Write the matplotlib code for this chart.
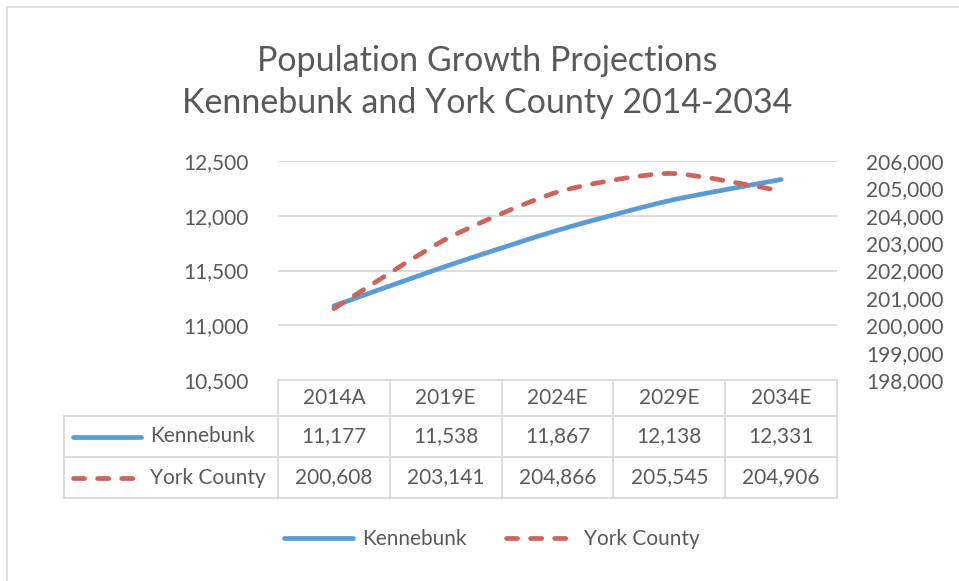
#!/usr/bin/env python3

import numpy as np
import matplotlib
matplotlib.use("Agg")
import matplotlib.pyplot as plt
from matplotlib.path import Path
from matplotlib.patches import PathPatch
from matplotlib.lines import Line2D

# ==========================
# DATA
# ==========================
periods = ["2014A", "2019E", "2024E", "2029E", "2034E"]
kennebunk = [11177, 11538, 11867, 12138, 12331]
york_county = [200608, 203141, 204866, 205545, 204906]

left_ticks = [10500, 11000, 11500, 12000, 12500]
right_ticks = [198000, 199000, 200000, 201000, 202000, 203000, 204000, 205000, 206000]

title_lines = ["Population Growth Projections", "Kennebunk and York County 2014-2034"]

# ==========================
# STYLE
# ==========================
W, H = 959, 581
TEXT = "#595959"
GRID = "#D9D9D9"
BLUE = "#5B9BD5"
RED = "#CD635B"
LW = 3.4
DASH = (0, (2.35, 2.75))
TENSION = 1 / 9
plt.rcParams["font.family"] = ["Lato", "DejaVu Sans"]
FS = 15


def px(x, y):
    # pixel position (from top-left) -> figure fraction
    return x / W, 1 - y / H


def smooth_path(xs, ys):
    # bezier through the points, tangents from the neighbouring points
    pts = np.column_stack([xs, ys]).astype(float)
    ext = np.vstack([pts[0], pts, pts[-1]])
    verts = [pts[0]]
    codes = [Path.MOVETO]
    for i in range(len(pts) - 1):
        p0, p1, p2, p3 = ext[i], ext[i + 1], ext[i + 2], ext[i + 3]
        verts += [p1 + (p2 - p0) * TENSION, p2 - (p3 - p1) * TENSION, p2]
        codes += [Path.CURVE4] * 3
    return Path(verts, codes)


fig = plt.figure(figsize=(W / 100, H / 100), dpi=100)

# chart frame (only top and left edges visible)
fig.add_artist(Line2D([7 / W, 7 / W], [0, 1 - 7 / H], color=GRID, lw=1.2))
fig.add_artist(Line2D([7 / W, 1], [1 - 7 / H, 1 - 7 / H], color=GRID, lw=1.2))

# title
for i, t in enumerate(title_lines):
    fig.text(*px(487, 61 + 42 * i), t, ha="center", va="center",
             fontsize=24.5, color=TEXT)

# ==========================
# AXES
# ==========================
x0, y0 = px(278, 380)
x1, y1 = px(837, 161)
ax = fig.add_axes([x0, y0, x1 - x0, y1 - y0])
ax2 = ax.twinx()

x = np.arange(len(periods))
ax.set_xlim(-0.5, len(periods) - 0.5)
ax.set_ylim(left_ticks[0], left_ticks[-1])
ax2.set_ylim(right_ticks[0], right_ticks[-1])

ax.set_yticks(left_ticks)
ax.set_yticklabels([f"{v:,}" for v in left_ticks])
ax2.set_yticks(right_ticks)
ax2.set_yticklabels([f"{v:,}" for v in right_ticks])
ax.set_xticks([])

for a in (ax, ax2):
    for s in a.spines.values():
        s.set_visible(False)
    a.tick_params(axis="y", length=0, labelsize=FS, labelcolor=TEXT, pad=21)

ax.yaxis.grid(True, color=GRID, lw=1.3)
ax.set_axisbelow(True)

ax.add_patch(PathPatch(smooth_path(x, kennebunk), fill=False, ec=BLUE, lw=LW,
                       capstyle="round", joinstyle="round"))
ax2.add_patch(PathPatch(smooth_path(x, york_county), fill=False, ec=RED, lw=LW,
                        linestyle=DASH, capstyle="round", joinstyle="round"))

# ==========================
# DATA TABLE under the plot
# ==========================
tr = ax.get_xaxis_transform()
col_w = 559 / len(periods)
x_lab = -0.5 - (278 - 64) / col_w
row_edges = [0, -36 / 219, -77 / 219, -118 / 219]
row_mid = [(row_edges[i] + row_edges[i + 1]) / 2 for i in range(3)]


def tline(xs, ys):
    ax.add_line(Line2D(xs, ys, transform=tr, color=GRID, lw=1.3, clip_on=False))


tline([-0.5, len(periods) - 0.5], [0, 0])
for yy in row_edges[1:]:
    tline([x_lab, len(periods) - 0.5], [yy, yy])
for k in range(len(periods) + 1):
    tline([k - 0.5, k - 0.5], [0, row_edges[-1]])
tline([x_lab, x_lab], [row_edges[1], row_edges[-1]])

for i, p in enumerate(periods):
    ax.text(i, row_mid[0], p, transform=tr, ha="center", va="center",
            fontsize=FS, color=TEXT)
    ax.text(i, row_mid[1], f"{kennebunk[i]:,}", transform=tr, ha="center",
            va="center", fontsize=FS, color=TEXT)
    ax.text(i, row_mid[2], f"{york_county[i]:,}", transform=tr, ha="center",
            va="center", fontsize=FS, color=TEXT)

key_x0 = -0.5 - (278 - 73) / col_w
key_x1 = -0.5 - (278 - 141) / col_w
key_tx = -0.5 - (278 - 150) / col_w
ax.add_line(Line2D([key_x0, key_x1], [row_mid[1]] * 2, transform=tr, color=BLUE,
                   lw=LW, solid_capstyle="round", clip_on=False))
ax.add_line(Line2D([key_x0, key_x1 - 0.05], [row_mid[2]] * 2, transform=tr, color=RED,
                   lw=LW, linestyle=DASH, dash_capstyle="round", clip_on=False))
ax.text(key_tx, row_mid[1], "Kennebunk", transform=tr, ha="left", va="center",
        fontsize=FS, color=TEXT)
ax.text(key_tx, row_mid[2], "York County", transform=tr, ha="left", va="center",
        fontsize=FS, color=TEXT)

# ==========================
# LEGEND
# ==========================
handles = [
    Line2D([], [], color=BLUE, lw=LW, solid_capstyle="round"),
    Line2D([], [], color=RED, lw=LW, linestyle=DASH, dash_capstyle="round"),
]
leg = fig.legend(handles, ["Kennebunk", "York County"], loc="center",
                 bbox_to_anchor=px(492, 539), ncol=2, frameon=False,
                 fontsize=FS, handlelength=3.3, handletextpad=0.45,
                 columnspacing=1.9)
for t in leg.get_texts():
    t.set_color(TEXT)

fig.savefig("out.png", dpi=100)
